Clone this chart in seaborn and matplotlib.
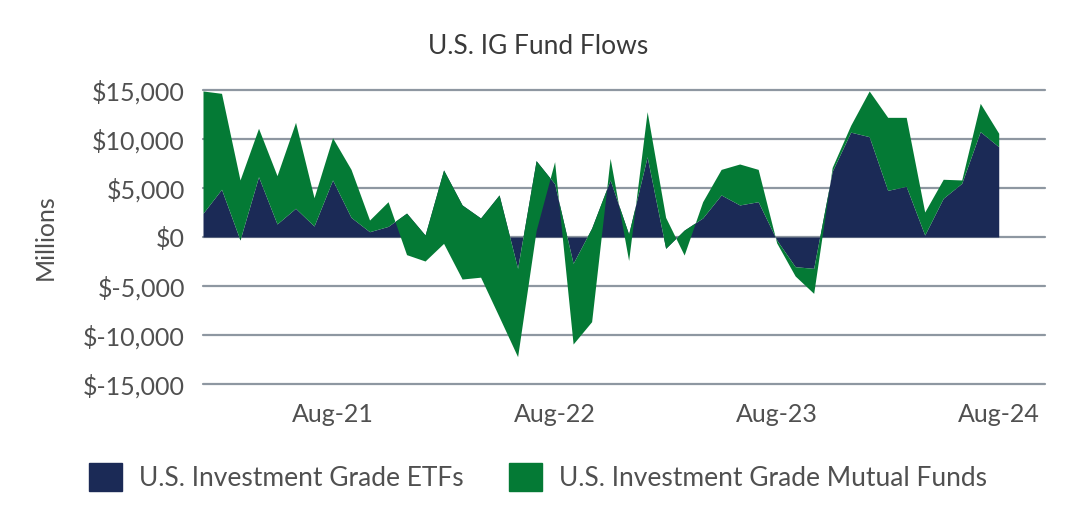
import numpy as np
import pandas as pd
import matplotlib
matplotlib.use("Agg")
import matplotlib.pyplot as plt
from matplotlib.patches import Patch
from matplotlib.ticker import FuncFormatter
import seaborn as sns

# Monthly flows, $ millions (Jan-21 .. Aug-24)
months = pd.date_range("2021-01-01", "2024-08-01", freq="MS").strftime("%b-%y")

etf_flows = [2420, 4870, -300, 6150, 1330, 2930, 1120, 5820, 2000, 540,
             1080, 2440, 200, 6840, 3270, 1940, 4290, -3200, 7790, 5440,
             -2690, 900, 5820, 300, 8190, -1160, 700, 1940, 4290, 3270,
             3600, -300, -3030, -3200, 6700, 10700, 10240, 4760, 5170, 200,
             3950, 5480, 10750, 9210]

mf_flows = [12480, 9790, 6120, 4940, 4930, 8770, 2890, 4310, 4900, 1190,
            2520, -4240, -2650, -7490, -7560, -6040, -12420, -9010, -7140, 2250,
            -8230, -9540, 2210, -2700, 4600, 3160, -2540, 1660, 2610, 4180,
            3300, -300, -950, -2550, 400, 700, 4660, 7450, 7040, 2350,
            1940, 340, 2890, 1370]

tick_labels = ["Aug-21", "Aug-22", "Aug-23", "Aug-24"]
y_ticks = [-15000, -10000, -5000, 0, 5000, 10000, 15000]
series_names = ["U.S. Investment Grade ETFs", "U.S. Investment Grade Mutual Funds"]

NAVY = "#1b2a56"
GREEN = "#047a35"
GRID = "#8e97a1"
TEXT = "#505050"

sns.set_theme(style="white")
plt.rcParams["font.family"] = ["Lato", "DejaVu Sans"]

df = pd.DataFrame({"month": months, "etf": etf_flows, "mf": mf_flows})
df["x"] = np.arange(len(df))

W, H = 1076, 524
fig = plt.figure(figsize=(W / 100, H / 100), dpi=100)
ax = fig.add_axes([203 / W, 1 - 384 / H, (1045 - 203) / W, (384 - 90) / H])

# stacked area, like the Excel original (mutual funds stacked on top of ETFs)
ax.stackplot(df["x"], df["etf"], df["mf"], colors=[NAVY, GREEN],
             linewidth=0, zorder=3)

ax.set_ylim(-15000, 15000)
ax.set_xlim(0, 45.5)
ax.set_yticks(y_ticks)
ax.yaxis.set_major_formatter(FuncFormatter(lambda v, _: f"${v:,.0f}"))
ax.set_xticks([int(df.index[df["month"] == m][0]) for m in tick_labels])
ax.set_xticklabels(tick_labels)

ax.grid(axis="y", color=GRID, linewidth=1.6, zorder=0)
ax.grid(axis="x", visible=False)
ax.set_axisbelow(True)
for line in ax.get_ygridlines():
    line.set_clip_on(False)
sns.despine(ax=ax, left=True, bottom=True)
ax.tick_params(axis="both", length=0, labelsize=18, colors=TEXT)
ax.tick_params(axis="y", pad=13)
ax.tick_params(axis="x", pad=14)

fig.text(0.5, 1 - 47 / H, "U.S. IG Fund Flows", ha="center", va="center",
         fontsize=19, color="#3a3a3a")
fig.text(45 / W, 1 - 237 / H, "Millions", rotation=90, ha="center",
         va="center", fontsize=18, color=TEXT)

handles = [Patch(color=NAVY, label=series_names[0]),
           Patch(color=GREEN, label=series_names[1])]
fig.legend(handles=handles, loc="center left",
           bbox_to_anchor=(76 / W, 1 - 477 / H), ncol=2, frameon=False,
           fontsize=19, handlelength=1.25, handleheight=1.25,
           handletextpad=0.65, columnspacing=1.7, borderpad=0,
           labelcolor=TEXT)

fig.savefig("out.png", dpi=100)
